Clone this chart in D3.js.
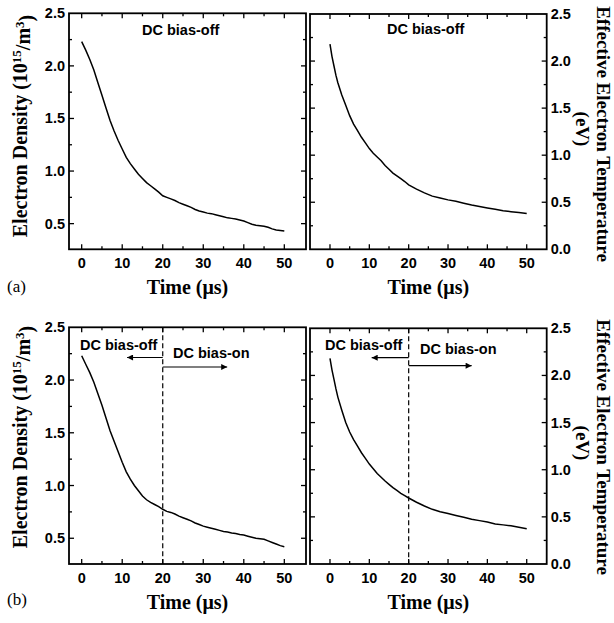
<!DOCTYPE html>
<html><head><meta charset="utf-8">
<script src="https://cdn.jsdelivr.net/npm/d3@7"></script>
<style>body{margin:0;background:#fff}svg{display:block}</style>
</head><body>
<script>
// ---- data ----
const timeDensity = [0,1,2,3,4,5,6,7,8,9,10,11,12,13,14,15,16,17,18,19,20,21,22,23,24,25,26,27,28,29,30,31,32,33,34,35,36,37,38,39,40,41,42,43,44,45,46,47,48,49,50];
const densityA = [2.23,2.15,2.06,1.96,1.84,1.72,1.60,1.48,1.38,1.29,1.21,1.13,1.07,1.02,0.97,0.93,0.89,0.86,0.83,0.80,0.765,0.75,0.735,0.72,0.70,0.685,0.67,0.655,0.635,0.62,0.61,0.60,0.595,0.585,0.575,0.565,0.555,0.55,0.545,0.535,0.525,0.51,0.495,0.485,0.48,0.475,0.465,0.45,0.44,0.435,0.43];
const densityB = [2.23,2.15,2.07,1.98,1.87,1.76,1.64,1.52,1.42,1.32,1.22,1.13,1.06,1.00,0.95,0.90,0.865,0.84,0.82,0.80,0.775,0.755,0.745,0.73,0.71,0.695,0.68,0.665,0.645,0.63,0.615,0.605,0.595,0.585,0.575,0.565,0.56,0.55,0.545,0.535,0.53,0.52,0.51,0.50,0.495,0.49,0.475,0.46,0.445,0.43,0.42];
const timeTemp = [0,0.5,1,1.5,2,3,4,5,6,7,8,9,10,11,12,13,14,15,16,17,18,19,20,22,24,26,28,30,32,34,36,38,40,42,44,46,48,50];
const tempA = [2.18,2.05,1.95,1.85,1.77,1.64,1.53,1.42,1.33,1.26,1.19,1.13,1.07,1.02,0.98,0.94,0.89,0.85,0.81,0.78,0.75,0.72,0.685,0.64,0.60,0.565,0.545,0.525,0.51,0.49,0.47,0.455,0.44,0.425,0.41,0.40,0.39,0.38];
const tempB = [2.18,2.06,1.96,1.86,1.77,1.63,1.50,1.40,1.32,1.25,1.18,1.12,1.06,1.01,0.96,0.92,0.88,0.845,0.81,0.78,0.75,0.725,0.70,0.655,0.615,0.58,0.555,0.535,0.515,0.495,0.475,0.46,0.445,0.425,0.415,0.405,0.39,0.375];
const xTicks = [0,10,20,30,40,50];
const yTicksDensity = [0.5,1.0,1.5,2.0,2.5];
const yTicksTemp = [0.0,0.5,1.0,1.5,2.0,2.5];
const biasSwitchTime = [20];
const labelOff = "DC bias-off", labelOn = "DC bias-on";
const panelLetters = ["(a)","(b)"];

// ---- drawing ----
const W = 614, H = 623;
const svg = d3.select("body").append("svg").attr("width", W).attr("height", H);
svg.append("defs").append("marker").attr("id","ah").attr("viewBox","0 0 10 10")
  .attr("refX",10).attr("refY",5).attr("markerWidth",8).attr("markerHeight",6)
  .attr("markerUnits","userSpaceOnUse").attr("orient","auto")
  .append("path").attr("d","M0,0L10,5L0,10Z").attr("fill","#000");

const tickFont = "'Liberation Sans', Arial, sans-serif";
const serif = "'Liberation Serif', 'Times New Roman', serif";

function panel(opt) {
  const x = d3.scaleLinear().domain(opt.xd).range([opt.x0, opt.x1]);
  const y = d3.scaleLinear().domain(opt.yd).range([opt.y1, opt.y0]);
  const g = svg.append("g");
  const xMinor = d3.range(5, 55, 10).filter(v => v > opt.xd[0] && v < opt.xd[1]);
  const yMinor = d3.range(0.25, 2.5, 0.5).filter(v => v > opt.yd[0] + 0.01 && v < opt.yd[1]);
  const tick = (v, len, axis) => {
    if (axis === "x") {
      g.append("line").attr("x1", x(v)).attr("x2", x(v)).attr("y1", opt.y1).attr("y2", opt.y1 - len);
      g.append("line").attr("x1", x(v)).attr("x2", x(v)).attr("y1", opt.y0).attr("y2", opt.y0 + len);
    } else {
      g.append("line").attr("y1", y(v)).attr("y2", y(v)).attr("x1", opt.x0).attr("x2", opt.x0 + len);
      g.append("line").attr("y1", y(v)).attr("y2", y(v)).attr("x1", opt.x1).attr("x2", opt.x1 - len);
    }
  };
  xTicks.forEach(v => tick(v, 5, "x"));
  xMinor.forEach(v => tick(v, 3, "x"));
  opt.yTicks.filter(v => v > opt.yd[0] && v < opt.yd[1]).forEach(v => tick(v, 5, "y"));
  yMinor.forEach(v => tick(v, 3, "y"));
  g.selectAll("line").attr("stroke", "#000").attr("stroke-width", 1.3);
  g.append("rect").attr("x", opt.x0).attr("y", opt.y0).attr("width", opt.x1 - opt.x0).attr("height", opt.y1 - opt.y0)
    .attr("fill", "none").attr("stroke", "#000").attr("stroke-width", 1.8);
  xTicks.forEach(v => g.append("text").attr("x", x(v)).attr("y", opt.y1 + 19).attr("text-anchor", "middle")
    .attr("font-family", tickFont).attr("font-weight", "bold").attr("font-size", 14.5).text(v));
  opt.yTicks.forEach(v => {
    const t = g.append("text").attr("y", y(v) + 5).attr("font-family", tickFont).attr("font-weight", "bold")
      .attr("font-size", 14.5).text(d3.format(".1f")(v));
    if (opt.right) t.attr("x", opt.x1 + 4); else t.attr("x", opt.x0 - 4).attr("text-anchor", "end");
  });
  g.append("text").attr("x", (opt.x0 + opt.x1) / 2).attr("y", opt.y1 + 45).attr("text-anchor", "middle")
    .attr("font-family", serif).attr("font-weight", "bold").attr("font-size", 20).text("Time (μs)");
  const line = d3.line().x(d => x(d[0])).y(d => y(d[1]));
  g.append("path").datum(d3.zip(opt.t, opt.v)).attr("d", line).attr("fill", "none")
    .attr("stroke", "#000").attr("stroke-width", 1.5);
  return {x, y, g};
}

function annotate(p, opt) {
  const {x, g} = p;
  biasSwitchTime.forEach(ts => {
    g.append("line").attr("x1", x(ts)).attr("x2", x(ts)).attr("y1", opt.y0).attr("y2", opt.y1)
      .attr("stroke", "#000").attr("stroke-width", 1.2).attr("stroke-dasharray", "5,3");
    g.append("line").attr("x1", x(ts)).attr("x2", x(opt.arrowL)).attr("y1", opt.yL).attr("y2", opt.yL)
      .attr("stroke", "#000").attr("stroke-width", 1.2).attr("marker-end", "url(#ah)");
    g.append("line").attr("x1", x(ts)).attr("x2", x(opt.arrowR)).attr("y1", opt.yR).attr("y2", opt.yR)
      .attr("stroke", "#000").attr("stroke-width", 1.2).attr("marker-end", "url(#ah)");
  });
}

function label(txt, xpos, ypos) {
  svg.append("text").attr("x", xpos).attr("y", ypos).attr("font-family", tickFont).attr("font-weight", "bold")
    .attr("font-size", 14.5).text(txt);
}

const L = {x0: 69, x1: 306, xd: [-3.13, 55.35], yd: [0.256, 2.5], yTicks: yTicksDensity};
const R = {x0: 310, x1: 546.7, xd: [-5.08, 55.08], yd: [0, 2.5], yTicks: yTicksTemp, right: true};

const pTL = panel({...L, y0: 13.3, y1: 249.3, t: timeDensity, v: densityA});
const pTR = panel({...R, y0: 14, y1: 249.3, t: timeTemp, v: tempA});
const pBL = panel({...L, y0: 327.3, y1: 564, t: timeDensity, v: densityB});
const pBR = panel({...R, y0: 328.3, y1: 564, t: timeTemp, v: tempB});

label(labelOff, 142, 35);
label(labelOff, 387, 34);
annotate(pBL, {y0: 327.3, y1: 564, arrowL: 11.2, arrowR: 35.9, yL: 357.5, yR: 367});
annotate(pBR, {y0: 328.3, y1: 564, arrowL: 10.6, arrowR: 36, yL: 357.7, yR: 365.7});
label(labelOff, 80, 350);
label(labelOn, 173, 358);
label(labelOff, 325, 350);
label(labelOn, 420, 354);

function leftTitle(cx, cy) {
  const t = svg.append("text").attr("transform", `translate(${cx},${cy}) rotate(-90)`).attr("text-anchor", "middle")
    .attr("dy", "0.35em").attr("font-family", serif).attr("font-weight", "bold").attr("font-size", 20);
  t.append("tspan").text("Electron Density (10");
  t.append("tspan").attr("dy", "-0.45em").attr("font-size", 13).text("15");
  t.append("tspan").attr("dy", "0.45em").text("/m");
  t.append("tspan").attr("dy", "-0.45em").attr("font-size", 13).text("3");
  t.append("tspan").attr("dy", "0.45em").text(")");
}
function rightTitle(cx, cy, cx2, cy2) {
  svg.append("text").attr("transform", `translate(${cx},${cy}) rotate(90)`).attr("text-anchor", "middle")
    .attr("dy", "0.35em").attr("font-family", serif).attr("font-weight", "bold").attr("font-size", 19)
    .text("Effective Electron Temperature");
  svg.append("text").attr("transform", `translate(${cx2},${cy2}) rotate(90)`).attr("text-anchor", "middle")
    .attr("dy", "0.35em").attr("font-family", serif).attr("font-weight", "bold").attr("font-size", 19)
    .text("(eV)");
}
leftTitle(20, 126);
leftTitle(20, 437);
rightTitle(603.5, 134, 583, 129);
rightTitle(603.5, 447, 583, 443);

svg.append("text").attr("x", 7).attr("y", 292).attr("font-family", serif).attr("font-size", 17).text(panelLetters[0]);
svg.append("text").attr("x", 7).attr("y", 605).attr("font-family", serif).attr("font-size", 17).text(panelLetters[1]);
</script>
</body></html>
